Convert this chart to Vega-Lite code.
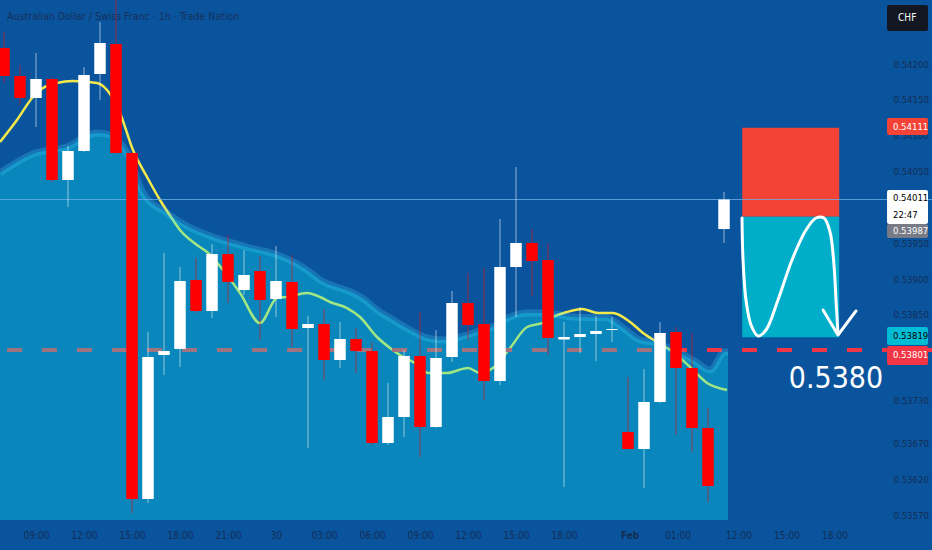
{
  "$schema": "https://vega.github.io/schema/vega-lite/v6.json",
  "width": 932,
  "height": 520,
  "autosize": {"type": "none"},
  "padding": {"left": 0, "top": 0, "right": 0, "bottom": 30},
  "background": "#0a549e",
  "config": {
    "view": {"stroke": null},
    "axis": {"titleOpacity": 0, "grid": false, "domain": false, "ticks": false, "tickSize": 0},
    "text": {"font": "DejaVu Sans Condensed, sans-serif"}
  },
  "title": {
    "text": "Australian Dollar / Swiss Franc · 1h · Trade Nation",
    "anchor": "start",
    "frame": "group",
    "orient": "top",
    "offset": -31,
    "dx": 7,
    "font": "DejaVu Sans Condensed, sans-serif",
    "fontSize": 10.5,
    "fontWeight": "normal",
    "color": "#15305a"
  },
  "datasets": {
    "candles": [
      {"t": 0, "o": 0.542223, "h": 0.542447, "l": 0.541735, "c": 0.541833},
      {"t": 1, "o": 0.541833, "h": 0.541986, "l": 0.541428, "c": 0.541526},
      {"t": 2, "o": 0.541526, "h": 0.542154, "l": 0.541121, "c": 0.541791},
      {"t": 3, "o": 0.541791, "h": 0.541819, "l": 0.540354, "c": 0.540382},
      {"t": 4, "o": 0.540382, "h": 0.540856, "l": 0.540005, "c": 0.540787},
      {"t": 5, "o": 0.540787, "h": 0.541958, "l": 0.540773, "c": 0.541847},
      {"t": 6, "o": 0.541861, "h": 0.542586, "l": 0.541498, "c": 0.542293},
      {"t": 7, "o": 0.542279, "h": 0.5430, "l": 0.540745, "c": 0.540759},
      {"t": 8, "o": 0.540759, "h": 0.540773, "l": 0.535737, "c": 0.535932},
      {"t": 9, "o": 0.535932, "h": 0.538262, "l": 0.535876, "c": 0.537913},
      {"t": 10, "o": 0.537941, "h": 0.539364, "l": 0.537662, "c": 0.537997},
      {"t": 11, "o": 0.538025, "h": 0.539168, "l": 0.537773, "c": 0.538973},
      {"t": 12, "o": 0.538987, "h": 0.539294, "l": 0.538527, "c": 0.538555},
      {"t": 13, "o": 0.538555, "h": 0.539489, "l": 0.538457, "c": 0.53935},
      {"t": 14, "o": 0.53935, "h": 0.539615, "l": 0.538666, "c": 0.538959},
      {"t": 15, "o": 0.538847, "h": 0.539405, "l": 0.538778, "c": 0.539057},
      {"t": 16, "o": 0.539113, "h": 0.539322, "l": 0.53815, "c": 0.538708},
      {"t": 17, "o": 0.538722, "h": 0.539461, "l": 0.538471, "c": 0.538973},
      {"t": 18, "o": 0.538959, "h": 0.539336, "l": 0.538052, "c": 0.538303},
      {"t": 19, "o": 0.538317, "h": 0.538485, "l": 0.536643, "c": 0.538373},
      {"t": 20, "o": 0.538373, "h": 0.538582, "l": 0.537592, "c": 0.537871},
      {"t": 21, "o": 0.537871, "h": 0.538401, "l": 0.537759, "c": 0.538164},
      {"t": 22, "o": 0.538164, "h": 0.538317, "l": 0.53769, "c": 0.537997},
      {"t": 23, "o": 0.537997, "h": 0.538122, "l": 0.536685, "c": 0.536713},
      {"t": 24, "o": 0.536713, "h": 0.53755, "l": 0.536685, "c": 0.537076},
      {"t": 25, "o": 0.537076, "h": 0.53801, "l": 0.536797, "c": 0.537927},
      {"t": 26, "o": 0.537927, "h": 0.538541, "l": 0.536518, "c": 0.536936},
      {"t": 27, "o": 0.536936, "h": 0.538289, "l": 0.536922, "c": 0.537899},
      {"t": 28, "o": 0.537913, "h": 0.538834, "l": 0.537843, "c": 0.538666},
      {"t": 29, "o": 0.538666, "h": 0.539085, "l": 0.53815, "c": 0.538359},
      {"t": 30, "o": 0.538373, "h": 0.539154, "l": 0.537313, "c": 0.537578},
      {"t": 31, "o": 0.537578, "h": 0.539838, "l": 0.537522, "c": 0.539168},
      {"t": 32, "o": 0.539168, "h": 0.540563, "l": 0.538471, "c": 0.539503},
      {"t": 33, "o": 0.539503, "h": 0.539698, "l": 0.538764, "c": 0.539252},
      {"t": 34, "o": 0.539266, "h": 0.539503, "l": 0.537941, "c": 0.538178},
      {"t": 35, "o": 0.538157, "h": 0.538401, "l": 0.536099, "c": 0.538192},
      {"t": 36, "o": 0.538192, "h": 0.53861, "l": 0.537969, "c": 0.538234},
      {"t": 37, "o": 0.538234, "h": 0.538485, "l": 0.537857, "c": 0.538276},
      {"t": 38, "o": 0.538289, "h": 0.538471, "l": 0.538122, "c": 0.538303},
      {"t": 39, "o": 0.536867, "h": 0.537634, "l": 0.536629, "c": 0.536629},
      {"t": 40, "o": 0.536629, "h": 0.537745, "l": 0.536085, "c": 0.537285},
      {"t": 41, "o": 0.537285, "h": 0.538401, "l": 0.537271, "c": 0.538248},
      {"t": 42, "o": 0.538262, "h": 0.538331, "l": 0.536825, "c": 0.537759},
      {"t": 43, "o": 0.537759, "h": 0.538248, "l": 0.536588, "c": 0.536922},
      {"t": 44, "o": 0.536922, "h": 0.537201, "l": 0.53589, "c": 0.536113},
      {"t": 45, "o": 0.539698, "h": 0.540215, "l": 0.539503, "c": 0.54011}
    ],
    "ma": [
      {"t": -0.25, "p": 0.540912}, {"t": 0.81, "p": 0.541219}, {"t": 1.81, "p": 0.54154},
      {"t": 2.44, "p": 0.541665}, {"t": 3.31, "p": 0.541735}, {"t": 4.31, "p": 0.541763},
      {"t": 5.81, "p": 0.541735}, {"t": 6.44, "p": 0.541637}, {"t": 7.25, "p": 0.541317},
      {"t": 8.06, "p": 0.5408}, {"t": 8.94, "p": 0.540424}, {"t": 9.75, "p": 0.540103},
      {"t": 10.56, "p": 0.539824}, {"t": 11.0, "p": 0.539684}, {"t": 12.06, "p": 0.539475},
      {"t": 12.69, "p": 0.539378}, {"t": 13.69, "p": 0.539126}, {"t": 14.75, "p": 0.538806},
      {"t": 16.0, "p": 0.538387}, {"t": 17.06, "p": 0.538736}, {"t": 17.69, "p": 0.53875},
      {"t": 18.94, "p": 0.538806}, {"t": 19.75, "p": 0.53875}, {"t": 20.38, "p": 0.53868},
      {"t": 21.44, "p": 0.538596}, {"t": 22.25, "p": 0.538471}, {"t": 23.31, "p": 0.538192},
      {"t": 24.13, "p": 0.538038}, {"t": 24.94, "p": 0.537913}, {"t": 25.69, "p": 0.537829},
      {"t": 26.5, "p": 0.53769}, {"t": 27.69, "p": 0.53769}, {"t": 29.0, "p": 0.537759},
      {"t": 29.75, "p": 0.53769}, {"t": 30.56, "p": 0.537759}, {"t": 31.63, "p": 0.538038},
      {"t": 32.69, "p": 0.538331}, {"t": 33.81, "p": 0.538401}, {"t": 34.31, "p": 0.538471},
      {"t": 35.19, "p": 0.538541}, {"t": 36.13, "p": 0.538582}, {"t": 37.13, "p": 0.538527},
      {"t": 38.06, "p": 0.538527}, {"t": 39.13, "p": 0.538401}, {"t": 39.94, "p": 0.538248},
      {"t": 40.81, "p": 0.538122}, {"t": 41.81, "p": 0.537983}, {"t": 42.88, "p": 0.537773},
      {"t": 43.94, "p": 0.53755}, {"t": 45.19, "p": 0.537452}
    ],
    "band": [
      {"t": -0.25, "p": 0.54048}, {"t": 1.81, "p": 0.540745}, {"t": 3.94, "p": 0.540842},
      {"t": 5.81, "p": 0.541038}, {"t": 6.63, "p": 0.54101}, {"t": 7.69, "p": 0.540759},
      {"t": 8.69, "p": 0.540201}, {"t": 10.19, "p": 0.539922}, {"t": 11.31, "p": 0.539754},
      {"t": 13.06, "p": 0.539587}, {"t": 15.19, "p": 0.539447}, {"t": 17.25, "p": 0.539322},
      {"t": 18.94, "p": 0.539126}, {"t": 19.75, "p": 0.538987}, {"t": 21.81, "p": 0.538806},
      {"t": 22.56, "p": 0.538708}, {"t": 23.31, "p": 0.538568}, {"t": 24.31, "p": 0.538429},
      {"t": 25.38, "p": 0.538289}, {"t": 26.44, "p": 0.538178}, {"t": 27.44, "p": 0.53815},
      {"t": 28.5, "p": 0.538192}, {"t": 29.56, "p": 0.538262}, {"t": 30.56, "p": 0.538331},
      {"t": 31.63, "p": 0.538471}, {"t": 32.69, "p": 0.538527}, {"t": 33.81, "p": 0.538527},
      {"t": 35.56, "p": 0.538471}, {"t": 37.69, "p": 0.538457}, {"t": 38.69, "p": 0.538317},
      {"t": 39.75, "p": 0.53815}, {"t": 40.81, "p": 0.538108}, {"t": 41.81, "p": 0.53801},
      {"t": 43.06, "p": 0.537871}, {"t": 44.13, "p": 0.537731}, {"t": 45.06, "p": 0.537983},
      {"t": 45.25, "p": 0.537983}
    ],
    "curve": [
      {"i": 0, "t": 46.125, "p": 0.539852}, {"i": 1, "t": 46.19, "p": 0.539266},
      {"i": 2, "t": 46.375, "p": 0.538708}, {"i": 3, "t": 46.69, "p": 0.538359},
      {"i": 4, "t": 47.125, "p": 0.538206}, {"i": 5, "t": 47.625, "p": 0.538289},
      {"i": 6, "t": 48.375, "p": 0.538708}, {"i": 7, "t": 49.25, "p": 0.539266},
      {"i": 8, "t": 50.125, "p": 0.539684}, {"i": 9, "t": 50.75, "p": 0.539852},
      {"i": 10, "t": 51.25, "p": 0.539852}, {"i": 11, "t": 51.625, "p": 0.539657},
      {"i": 12, "t": 51.875, "p": 0.539196}, {"i": 13, "t": 52.0, "p": 0.538708},
      {"i": 14, "t": 52.125, "p": 0.538234}
    ],
    "head": [
      {"i": 0, "t": 51.19, "p": 0.538568},
      {"i": 1, "t": 52.125, "p": 0.53822},
      {"i": 2, "t": 53.25, "p": 0.538555}
    ],
    "boxes": [
      {"kind": "stop", "x1": 46.14, "x2": 52.2, "lo": 0.53987, "hi": 0.54111},
      {"kind": "target", "x1": 46.14, "x2": 52.2, "lo": 0.53819, "hi": 0.53987}
    ],
    "tags": [
      {"kind": "chf", "lo": 0.542461, "hi": 0.542823},
      {"kind": "stop", "lo": 0.54101, "hi": 0.541247},
      {"kind": "last", "lo": 0.539768, "hi": 0.540243},
      {"kind": "prev", "lo": 0.539573, "hi": 0.539768},
      {"kind": "tp", "lo": 0.53808, "hi": 0.538331},
      {"kind": "entry", "lo": 0.537801, "hi": 0.538066}
    ],
    "tagText": [
      {"label": "0.54111", "p": 0.541128},
      {"label": "0.54011", "p": 0.540131},
      {"label": "22:47", "p": 0.539894},
      {"label": "0.53987", "p": 0.53967},
      {"label": "0.53819", "p": 0.538206},
      {"label": "0.53801", "p": 0.537934}
    ]
  },
  "layer": [
    {
      "data": {"name": "ma"},
      "mark": {"type": "line", "color": "#f5e94a", "strokeWidth": 2.5, "interpolate": "monotone"},
      "encoding": {
        "x": {
          "field": "t",
          "type": "quantitative",
          "scale": {"domain": [-0.25, 58], "nice": false, "zero": false, "padding": 0},
          "axis": {
            "orient": "bottom",
            "title": null,
            "labelPadding": 10,
            "labelOverlap": false,
            "labelFlush": false,
            "labelBound": false,
            "values": [2, 5, 8, 11, 14, 17, 20, 23, 26, 29, 32, 35, 39.1, 42.1, 45.9, 48.9, 51.9],
            "labelExpr": "['09:00','12:00','15:00','18:00','21:00','30','03:00','06:00','09:00','12:00','15:00','18:00','Feb','01:00','12:00','15:00','18:00'][indexof([2,5,8,11,14,17,20,23,26,29,32,35,39.1,42.1,45.9,48.9,51.9], datum.value)]",
            "labelFont": "DejaVu Sans Condensed, sans-serif",
            "labelFontSize": 10,
            "labelColor": "#142d52",
            "labelFontWeight": {"condition": {"test": "datum.value == 39.1", "value": "bold"}, "value": "normal"}
          }
        },
        "y": {
          "field": "p",
          "type": "quantitative",
          "scale": {"domain": [0.535639, 0.542893], "nice": false, "zero": false},
          "axis": {
            "orient": "right",
            "offset": -39,
            "title": null,
            "labelPadding": 0,
            "labelOverlap": false,
            "labelBound": false,
            "values": [0.542, 0.5415, 0.541, 0.5405, 0.5395, 0.539, 0.5385, 0.5373, 0.5367, 0.5362, 0.5357],
            "format": ".5f",
            "labelFont": "DejaVu Sans Condensed, sans-serif",
            "labelFontSize": 9.5,
            "labelColor": "#142d52"
          }
        }
      }
    },
    {
      "data": {"values": [{"p": 0.53801}]},
      "mark": {"type": "rule", "color": "#f23645", "strokeWidth": 4, "strokeDash": [15, 20]},
      "encoding": {"y": {"field": "p", "type": "quantitative"}}
    },
    {
      "data": {"name": "band"},
      "mark": {"type": "area", "color": "#0ae6f1", "opacity": 0.35, "interpolate": "monotone"},
      "encoding": {
        "x": {"field": "t", "type": "quantitative"},
        "y": {"field": "p", "type": "quantitative"},
        "y2": {"datum": 0.535639}
      }
    },
    {
      "data": {"name": "band"},
      "mark": {"type": "line", "color": "#40d8ff", "opacity": 0.25, "strokeWidth": 7, "interpolate": "monotone"},
      "encoding": {
        "x": {"field": "t", "type": "quantitative"},
        "y": {"field": "p", "type": "quantitative"}
      }
    },
    {
      "data": {"name": "boxes"},
      "mark": {"type": "rect"},
      "encoding": {
        "x": {"field": "x1", "type": "quantitative"},
        "x2": {"field": "x2"},
        "y": {"field": "lo", "type": "quantitative"},
        "y2": {"field": "hi"},
        "color": {
          "field": "kind",
          "type": "nominal",
          "legend": null,
          "scale": {
            "domain": ["stop", "target", "last", "prev", "tp", "entry", "chf"],
            "range": ["#f44336", "#00aec9", "#ffffff", "#787b86", "#00bcd4", "#f23645", "#131722"]
          }
        }
      }
    },
    {
      "data": {"values": [{"p": 0.54011}]},
      "mark": {"type": "rule", "color": "#6aaee8", "strokeWidth": 1, "opacity": 0.8},
      "encoding": {"y": {"field": "p", "type": "quantitative"}}
    },
    {
      "data": {"name": "candles"},
      "mark": {"type": "rule", "strokeWidth": 1, "opacity": 0.55},
      "encoding": {
        "x": {"field": "t", "type": "quantitative"},
        "y": {"field": "l", "type": "quantitative"},
        "y2": {"field": "h"},
        "color": {"condition": {"test": "datum.c >= datum.o", "value": "#ffffff"}, "value": "#ff0000"}
      }
    },
    {
      "data": {"name": "candles"},
      "mark": {"type": "bar", "size": 11.5, "orient": "vertical"},
      "encoding": {
        "x": {"field": "t", "type": "quantitative"},
        "y": {"field": "o", "type": "quantitative"},
        "y2": {"field": "c"},
        "color": {"condition": {"test": "datum.c >= datum.o", "value": "#ffffff"}, "value": "#ff0000"}
      }
    },
    {
      "data": {"name": "curve"},
      "mark": {"type": "line", "color": "#ffffff", "strokeWidth": 3, "interpolate": "catmull-rom", "strokeCap": "round"},
      "encoding": {
        "x": {"field": "t", "type": "quantitative"},
        "y": {"field": "p", "type": "quantitative"},
        "order": {"field": "i"}
      }
    },
    {
      "data": {"name": "head"},
      "mark": {"type": "line", "color": "#ffffff", "strokeWidth": 3, "strokeCap": "round", "strokeJoin": "round"},
      "encoding": {
        "x": {"field": "t", "type": "quantitative"},
        "y": {"field": "p", "type": "quantitative"},
        "order": {"field": "i"}
      }
    },
    {
      "data": {"values": [{"label": "0.5380", "t": 52, "p": 0.53748}]},
      "mark": {"type": "text", "color": "#ffffff", "fontSize": 30, "align": "center", "baseline": "alphabetic"},
      "encoding": {
        "x": {"field": "t", "type": "quantitative"},
        "y": {"field": "p", "type": "quantitative"},
        "text": {"field": "label"}
      }
    },
    {
      "data": {"name": "tags"},
      "mark": {"type": "rect", "cornerRadius": 2},
      "encoding": {
        "x": {"datum": 55.19, "type": "quantitative"},
        "x2": {"datum": 57.75},
        "y": {"field": "lo", "type": "quantitative"},
        "y2": {"field": "hi"},
        "color": {
          "field": "kind",
          "type": "nominal",
          "legend": null,
          "scale": {
            "domain": ["stop", "target", "last", "prev", "tp", "entry", "chf"],
            "range": ["#f44336", "#00aec9", "#ffffff", "#787b86", "#00bcd4", "#f23645", "#131722"]
          }
        }
      }
    },
    {
      "data": {"name": "tagText"},
      "mark": {"type": "text", "fontSize": 9.5, "align": "left", "baseline": "middle"},
      "encoding": {
        "x": {"datum": 55.56, "type": "quantitative"},
        "y": {"field": "p", "type": "quantitative"},
        "text": {"field": "label"},
        "color": {"condition": {"test": "indexof(['0.54011', '22:47', '0.53819'], datum.label) >= 0", "value": "#000000"}, "value": "#ffffff"}
      }
    },
    {
      "data": {"values": [{"label": "CHF", "p": 0.542642}]},
      "mark": {"type": "text", "fontSize": 10, "align": "center", "baseline": "middle", "color": "#ffffff"},
      "encoding": {
        "x": {"datum": 56.45, "type": "quantitative"},
        "y": {"field": "p", "type": "quantitative"},
        "text": {"field": "label"}
      }
    }
  ]
}
